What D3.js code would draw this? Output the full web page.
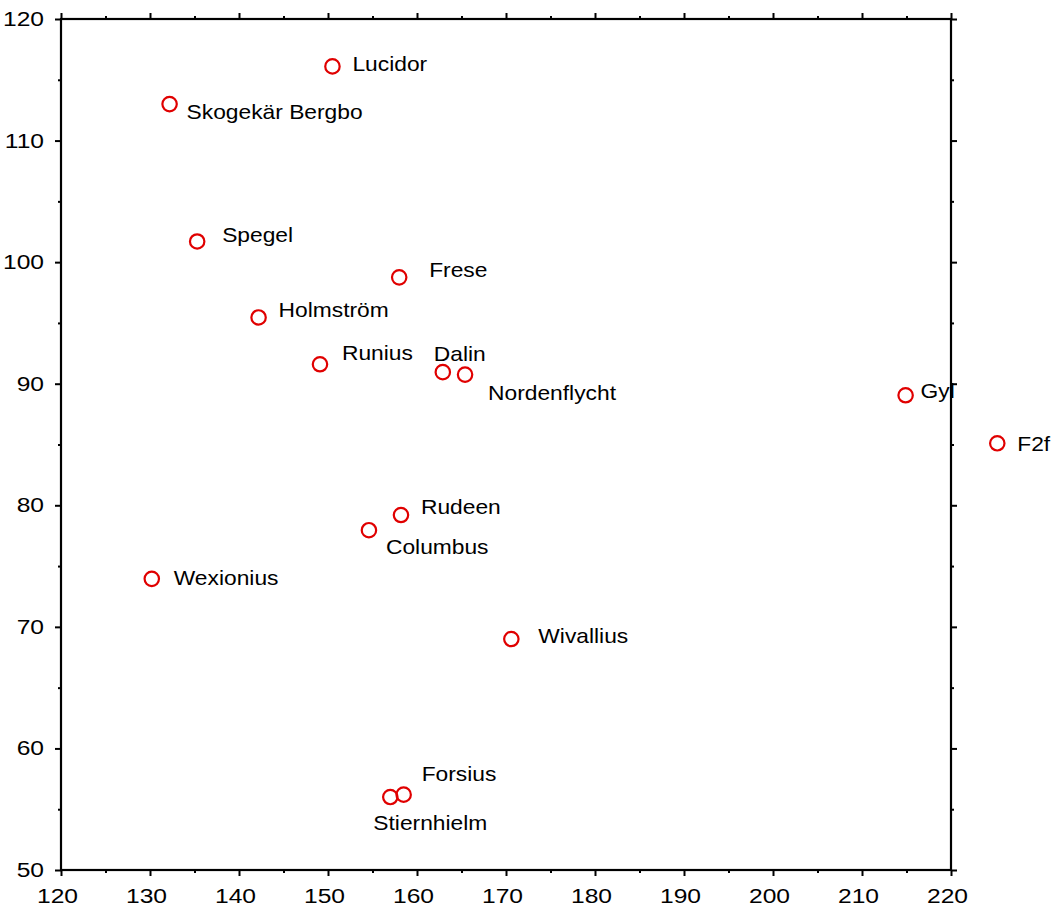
<!DOCTYPE html>
<html>
<head>
<meta charset="utf-8">
<script src="https://cdn.jsdelivr.net/npm/d3@7"></script>
<style>
  html, body { margin: 0; padding: 0; background: #fff; }
  svg { display: block; }
  text { font-family: Arial, "Liberation Sans", sans-serif; fill: #000; }
</style>
</head>
<body>
<svg id="chart" width="1055" height="909"></svg>
<script>
// ---- data ----
const names = ["Lucidor", "Skogekär Bergbo", "Spegel", "Frese", "Holmström", "Runius", "Dalin",
  "Nordenflycht", "Gyl", "F2f", "Rudeen", "Columbus", "Wexionius", "Wivallius", "Forsius", "Stiernhielm"];
const xValues = [150.5, 132.2, 135.3, 158.0, 142.2, 149.1, 162.9,
  165.4, 214.9, 225.2, 158.2, 154.6, 130.2, 170.6, 158.5, 157.0];
const yValues = [116.1, 113.0, 101.7, 98.75, 95.45, 91.6, 90.95,
  90.75, 89.05, 85.1, 79.2, 77.95, 73.95, 69.0, 56.2, 56.0];
const xTicks = [120, 130, 140, 150, 160, 170, 180, 190, 200, 210, 220];
const yTicks = [50, 60, 70, 80, 90, 100, 110, 120];

// label placement (layout only): offset of text start / baseline from marker centre, px
const labelDx = [20, 17, 25, 30, 20, 22, -9, 23, 15, 20, 20, 17, 22, 27, 18, -17];
const labelDy = [5, 15, 1, 0, 0, -4, -11, 25, 3, 8, -1, 24, 6, 4, -14, 33];

// ---- layout ----
const svg = d3.select("#chart");
const mLeft = 61, mRight = 951, mTop = 19, mBottom = 870;
const tickStretch = 1.2;

const x = d3.scaleLinear().domain([120, 220]).range([mLeft, mRight]);
const y = d3.scaleLinear().domain([50, 120]).range([mBottom, mTop]);

const xMinor = d3.range(125, 220, 10);
const yMinor = d3.range(55, 120, 10);

function widen(sel, k) {
  sel.each(function () {
    const w = this.getComputedTextLength();
    if (w > 0) d3.select(this).attr("textLength", w * k).attr("lengthAdjust", "spacingAndGlyphs");
  });
}

// labels first (frame drawn on top of them)
const pts = names.map((n, i) => ({ name: n, x: xValues[i], y: yValues[i], dx: labelDx[i], dy: labelDy[i] }));

svg.append("g").selectAll("text").data(pts).join("text")
  .attr("x", d => x(d.x) + d.dx)
  .attr("y", d => y(d.y) + d.dy)
  .attr("font-size", 21)
  .text(d => d.name)
  .call(widen, 1.085);

svg.append("g").selectAll("circle").data(pts).join("circle")
  .attr("cx", d => x(d.x))
  .attr("cy", d => y(d.y))
  .attr("r", 7.2)
  .attr("fill", "none")
  .attr("stroke", "#e00000")
  .attr("stroke-width", 2.2);

// axes
function styleAxis(g) {
  g.select(".domain").remove();
  g.attr("font-size", null).attr("font-family", null);
  g.selectAll(".tick line").attr("stroke", "#000").attr("stroke-width", 2);
  g.selectAll(".tick text")
    .style("font-size", "20.5px").attr("fill", "#000")
    .style("font-family", "Arial, 'Liberation Sans', sans-serif");
}
function stretchTicks(g, shift) {
  g.selectAll(".tick text").each(function () {
    const t = d3.select(this);
    const x0 = +(t.attr("x") || 0) + shift;
    t.attr("x", x0 / tickStretch).attr("transform", `scale(${tickStretch},1)`);
  });
}

// bottom
svg.append("g").attr("transform", `translate(0,${mBottom})`)
  .call(d3.axisBottom(x).tickValues(xTicks).tickSize(6).tickPadding(12).tickFormat(d3.format("d")))
  .call(styleAxis)
  .call(stretchTicks, -4);
svg.append("g").attr("transform", `translate(0,${mBottom})`)
  .call(d3.axisBottom(x).tickValues(xMinor).tickSize(3).tickFormat(""))
  .call(styleAxis);
// top
svg.append("g").attr("transform", `translate(0,${mTop})`)
  .call(d3.axisTop(x).tickValues(xTicks).tickSize(6).tickFormat(""))
  .call(styleAxis);
svg.append("g").attr("transform", `translate(0,${mTop})`)
  .call(d3.axisTop(x).tickValues(xMinor).tickSize(3).tickFormat(""))
  .call(styleAxis);
// left
svg.append("g").attr("transform", `translate(${mLeft},0)`)
  .call(d3.axisLeft(y).tickValues(yTicks).tickSize(6).tickPadding(11).tickFormat(d3.format("d")))
  .call(styleAxis)
  .call(stretchTicks, 0);
svg.append("g").attr("transform", `translate(${mLeft},0)`)
  .call(d3.axisLeft(y).tickValues(yMinor).tickSize(3).tickFormat(""))
  .call(styleAxis);
// right
svg.append("g").attr("transform", `translate(${mRight},0)`)
  .call(d3.axisRight(y).tickValues(yTicks).tickSize(6).tickFormat(""))
  .call(styleAxis);
svg.append("g").attr("transform", `translate(${mRight},0)`)
  .call(d3.axisRight(y).tickValues(yMinor).tickSize(3).tickFormat(""))
  .call(styleAxis);

// frame
svg.append("rect")
  .attr("x", mLeft).attr("y", mTop)
  .attr("width", mRight - mLeft).attr("height", mBottom - mTop)
  .attr("fill", "none").attr("stroke", "#000").attr("stroke-width", 2.2);
</script>
</body>
</html>
